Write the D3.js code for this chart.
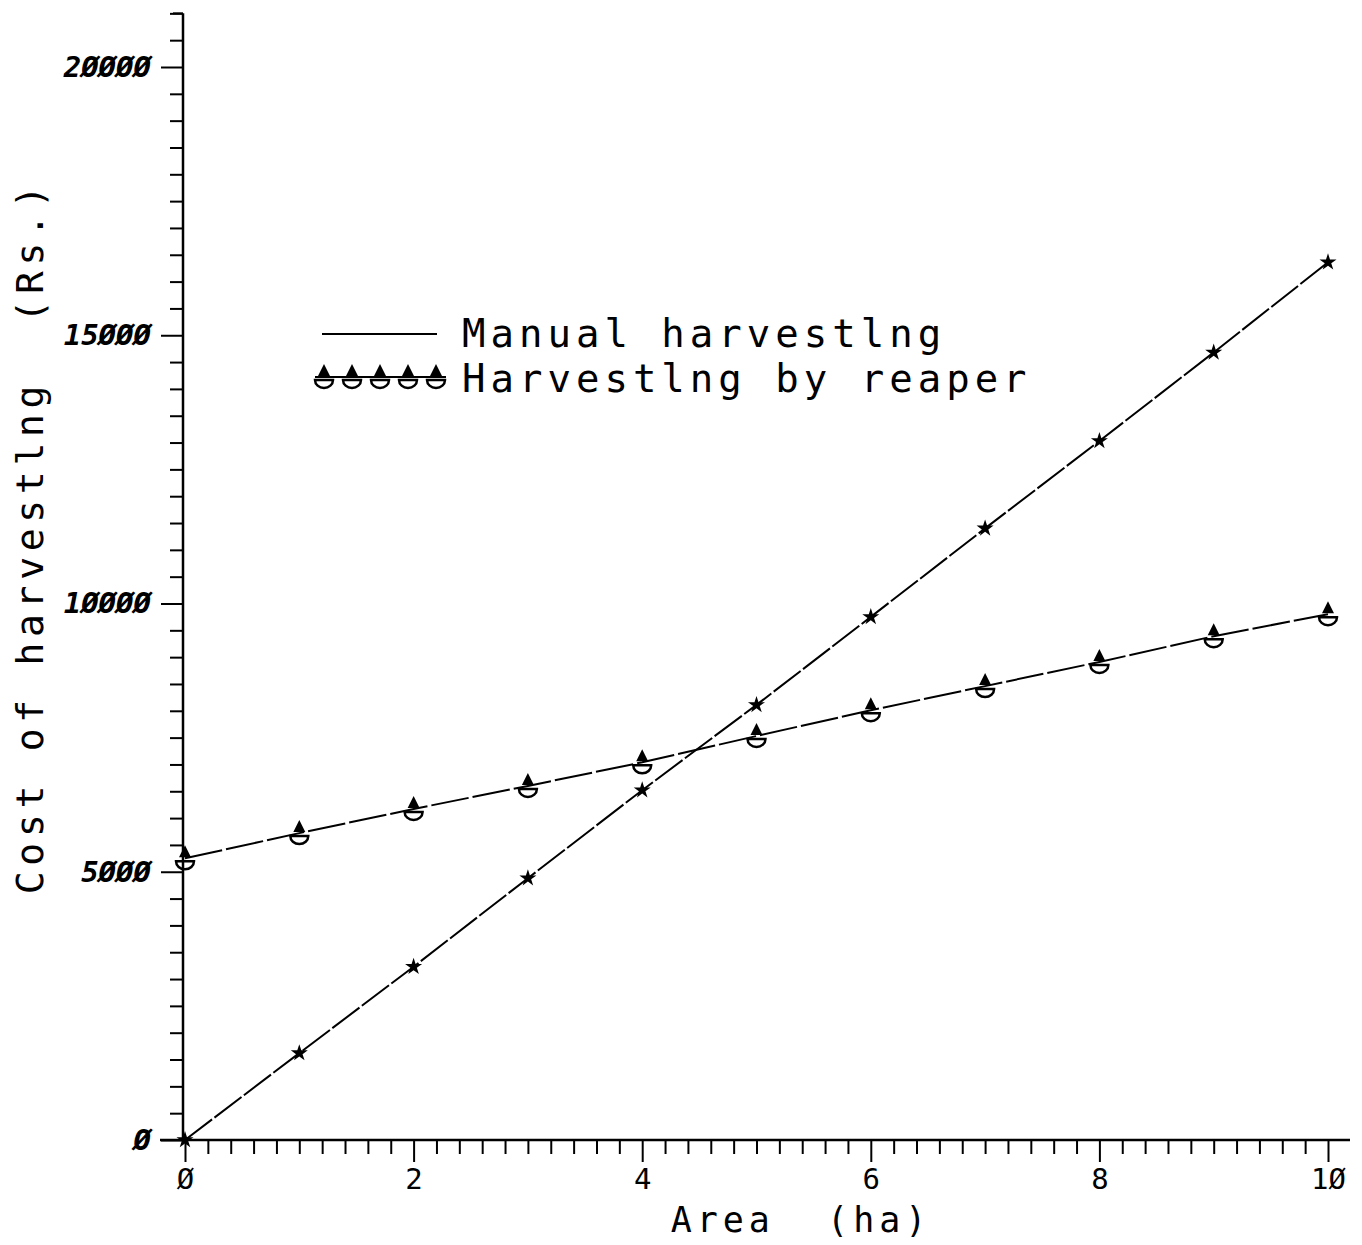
<!DOCTYPE html>
<html>
<head>
<meta charset="utf-8">
<script src="https://cdn.jsdelivr.net/npm/d3@7/dist/d3.min.js"></script>
<style>
  body { margin: 0; background: #fff; }
  svg text { font-family: "DejaVu Sans Mono", monospace; fill: #000; }
</style>
</head>
<body>
<div id="vis"></div>
<script>
// area (ha)
var areas = [0, 1, 2, 3, 4, 5, 6, 7, 8, 9, 10];
// cost of harvesting (Rs.)
var manualCost = [0, 1620, 3230, 4880, 6520, 8110, 9750, 11400, 13030, 14680, 16360];
var reaperCost = [5250, 5720, 6170, 6600, 7040, 7530, 8010, 8460, 8910, 9390, 9800];
var seriesNames = ["Manual harvestlng", "Harvestlng by reaper"];
var xTickLabels = [0, 2, 4, 6, 8, 10];
var yTickLabels = [0, 5000, 10000, 15000, 20000];

var width = 1362, height = 1245;

var svg = d3.select("#vis").append("svg")
    .attr("width", width)
    .attr("height", height);

var x = d3.scaleLinear().domain([0, 10]).range([185, 1328]);
var y = d3.scaleLinear().domain([0, 20000]).range([1140, 67]);

// y axis
var yAxis = d3.axisLeft(y)
    .tickValues(d3.range(0, 21001, 500))
    .tickSize(22)
    .tickPadding(10)
    .tickFormat(function (d) { return yTickLabels.indexOf(d) >= 0 ? String(d).replace(/0/g, "\u00d8") : ""; });

var gy = svg.append("g")
    .attr("transform", "translate(183,0)")
    .call(yAxis);
gy.select(".domain").remove();
gy.selectAll(".tick line")
    .attr("stroke", "#000")
    .attr("stroke-width", 2)
    .attr("x2", function (d) { return d % 5000 === 0 ? -22 : -13; });
gy.selectAll(".tick text")
    .style("font-size", "29px")
    .style("font-style", "italic")
    .style("font-weight", "bold");
gy.append("line")
    .attr("x1", 0).attr("x2", 0)
    .attr("y1", y(21000)).attr("y2", y(0))
    .attr("stroke", "#000").attr("stroke-width", 2.5);
gy.append("line")
    .attr("x1", -10).attr("x2", 0)
    .attr("y1", y(21000)).attr("y2", y(21000))
    .attr("stroke", "#000").attr("stroke-width", 2);

// x axis
var xAxis = d3.axisBottom(x)
    .tickValues(d3.range(0, 50).map(function (i) { return i * 0.2; }).concat([10]))
    .tickSize(22)
    .tickPadding(10)
    .tickFormat(function (d) {
        var r = Math.round(d * 10) / 10;
        return xTickLabels.indexOf(r) >= 0 ? String(r).replace(/0/g, "\u00d8") : "";
    });

var gx = svg.append("g")
    .attr("transform", "translate(0,1140)")
    .call(xAxis);
gx.select(".domain").remove();
gx.selectAll(".tick line")
    .attr("stroke", "#000")
    .attr("stroke-width", 2)
    .attr("y2", function (d) {
        var r = Math.round(d * 10) / 10;
        return xTickLabels.indexOf(r) >= 0 ? 22 : 14;
    });
gx.selectAll(".tick text")
    .attr("y", 28)
    .style("font-size", "29px");
gx.append("line")
    .attr("x1", 160).attr("x2", 1350)
    .attr("y1", 0).attr("y2", 0)
    .attr("stroke", "#000").attr("stroke-width", 2.5);

// axis titles
svg.append("text")
    .attr("x", 801).attr("y", 1232)
    .attr("text-anchor", "middle")
    .style("font-size", "35px")
    .style("letter-spacing", "5px")
    .style("white-space", "pre")
    .text("Area  (ha)");

svg.append("text")
    .attr("transform", "translate(43,537) rotate(-90)")
    .attr("text-anchor", "middle")
    .style("font-size", "38px")
    .style("letter-spacing", "5.7px")
    .style("white-space", "pre")
    .text("Cost of harvestlng  (Rs.)");

// lines
var line = d3.line()
    .x(function (d) { return x(d[0]); })
    .y(function (d) { return y(d[1]); });

var manualPts = areas.map(function (a, i) { return [a, manualCost[i]]; });
var reaperPts = areas.map(function (a, i) { return [a, reaperCost[i]]; });

svg.append("path")
    .attr("d", line(manualPts))
    .attr("fill", "none")
    .attr("stroke", "#000")
    .attr("stroke-width", 2)
    .attr("stroke-dasharray", "34,3");

svg.append("path")
    .attr("d", line(reaperPts))
    .attr("fill", "none")
    .attr("stroke", "#000")
    .attr("stroke-width", 2)
    .attr("stroke-dasharray", "38,4");

// markers
var star = d3.symbol().type(d3.symbolStar).size(90);

svg.selectAll(".mstar")
    .data(manualPts)
    .enter().append("path")
    .attr("class", "mstar")
    .attr("d", star)
    .attr("transform", function (d) { return "translate(" + x(d[0]) + "," + y(d[1]) + ")"; })
    .attr("fill", "#000");

function reaperMarker(g) {
    g.append("path")
        .attr("d", "M0,-13 L-6,-1 L6,-1 Z")
        .attr("fill", "#000");
    g.append("path")
        .attr("d", "M-9,3 L9,3 A9,8 0 0 1 -9,3 Z")
        .attr("fill", "none")
        .attr("stroke", "#000")
        .attr("stroke-width", 2.5);
}

svg.selectAll(".rmark")
    .data(reaperPts)
    .enter().append("g")
    .attr("class", "rmark")
    .attr("transform", function (d) { return "translate(" + x(d[0]) + "," + y(d[1]) + ")"; })
    .each(function () { reaperMarker(d3.select(this)); });

// legend
var leg = svg.append("g");
leg.append("line")
    .attr("x1", 322).attr("x2", 437)
    .attr("y1", 334).attr("y2", 334)
    .attr("stroke", "#000").attr("stroke-width", 2);
leg.append("text")
    .attr("x", 462).attr("y", 347)
    .style("font-size", "39px")
    .style("letter-spacing", "5px")
    .text(seriesNames[0]);

leg.append("line")
    .attr("x1", 315).attr("x2", 446)
    .attr("y1", 377).attr("y2", 377)
    .attr("stroke", "#000").attr("stroke-width", 2);
d3.range(5).forEach(function (i) {
    var g = leg.append("g").attr("transform", "translate(" + (324 + i * 28) + ",377)");
    reaperMarker(g);
});
leg.append("text")
    .attr("x", 462).attr("y", 392)
    .style("font-size", "39px")
    .style("letter-spacing", "5px")
    .text(seriesNames[1]);
</script>
</body>
</html>
